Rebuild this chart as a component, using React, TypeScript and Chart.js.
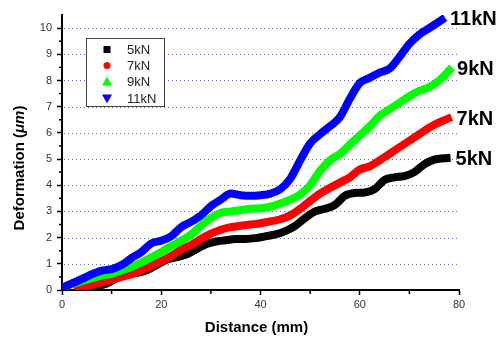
import React, { useEffect, useRef } from 'react';
import { Chart, registerables } from 'chart.js';
Chart.register(...registerables);

const seriesLabels = ['5kN', '7kN', '9kN', '11kN'];
const seriesColors = ['#000000', '#ff0000', '#00ff00', '#0000ff'];

const x5 = [3, 5, 7, 9, 11, 13, 15, 17, 19, 21, 23, 25, 27, 29, 31, 33, 35, 37, 39, 41, 43, 45, 47, 49, 51, 53, 55, 57, 59, 61, 63, 65, 67, 69, 71, 73, 75, 77, 78.3];
const y5 = [0.0, 0.08, 0.15, 0.25, 0.45, 0.6, 0.65, 0.75, 0.95, 1.15, 1.25, 1.35, 1.55, 1.75, 1.85, 1.9, 1.95, 1.95, 1.98, 2.05, 2.12, 2.25, 2.45, 2.75, 3.0, 3.1, 3.25, 3.6, 3.7, 3.72, 3.85, 4.2, 4.3, 4.35, 4.5, 4.8, 4.98, 5.03, 5.05];

const x7 = [2.5, 4, 6, 8, 10, 12, 14, 16, 18, 20, 22, 24, 26, 28, 30, 32, 34, 36, 38, 40, 42, 44, 46, 48, 50, 52, 54, 56, 58, 60, 62, 64, 66, 68, 70, 72, 74, 76, 78.5];
const y7 = [0.0, 0.1, 0.2, 0.3, 0.38, 0.5, 0.6, 0.75, 0.92, 1.1, 1.3, 1.55, 1.72, 1.95, 2.15, 2.3, 2.4, 2.45, 2.5, 2.55, 2.62, 2.7, 2.85, 3.1, 3.4, 3.68, 3.9, 4.1, 4.3, 4.6, 4.72, 4.95, 5.2, 5.45, 5.7, 5.95, 6.2, 6.4, 6.6];

const x9 = [0, 2, 4, 6, 8, 10, 12, 14, 16, 18, 20, 22, 24, 26, 28, 30, 32, 34, 36, 38, 40, 42, 44, 46, 48, 50, 52, 54, 56, 58, 60, 62, 64, 66, 68, 70, 72, 74, 76, 78.6];
const y9 = [0.08, 0.22, 0.35, 0.45, 0.55, 0.62, 0.75, 0.88, 1.05, 1.25, 1.45, 1.68, 1.88, 2.12, 2.45, 2.75, 2.95, 3.0, 3.05, 3.1, 3.12, 3.18, 3.3, 3.45, 3.65, 4.0, 4.55, 4.95, 5.2, 5.55, 5.9, 6.25, 6.65, 6.9, 7.15, 7.4, 7.6, 7.75, 8.0, 8.5];

const x11 = [0, 2, 4, 6, 8, 10, 12, 14, 16, 18, 20, 22, 24, 26, 28, 30, 32, 34, 36, 38, 40, 42, 44, 46, 48, 50, 52, 54, 56, 58, 60, 62, 64, 66, 68, 70, 72, 74, 76, 77.2];
const y11 = [0.08, 0.25, 0.42, 0.6, 0.74, 0.8, 0.95, 1.22, 1.45, 1.78, 1.88, 2.05, 2.4, 2.6, 2.85, 3.2, 3.45, 3.68, 3.62, 3.6, 3.62, 3.68, 3.85, 4.25, 4.95, 5.6, 5.95, 6.25, 6.6, 7.3, 7.9, 8.1, 8.3, 8.45, 8.9, 9.4, 9.75, 10.0, 10.25, 10.4];

const xTickValues = [0, 20, 40, 60, 80];
const xMinorValues = [10, 30, 50, 70];
const yTickValues = [0, 1, 2, 3, 4, 5, 6, 7, 8, 9, 10];
const yMinorValues = [0.5, 1.5, 2.5, 3.5, 4.5, 5.5, 6.5, 7.5, 8.5, 9.5];
const gridValues = [1, 2, 3, 4, 5, 6, 7, 8, 9, 10];

const xTitle = 'Distance (mm)';
const yTitleParts = ['Deformation (', 'μm', ')'];

const seriesX = [x5, x7, x9, x11];
const seriesY = [y5, y7, y9, y11];

const FONT = "'Liberation Sans', Arial, sans-serif";

function drawMarker(ctx: CanvasRenderingContext2D, idx: number, x: number, y: number) {
  ctx.fillStyle = seriesColors[idx];
  ctx.beginPath();
  if (idx === 0) {
    ctx.rect(x - 3.5, y - 3.5, 7, 7);
  } else if (idx === 1) {
    ctx.arc(x, y, 3.5, 0, Math.PI * 2);
  } else if (idx === 2) {
    ctx.moveTo(x, y - 5);
    ctx.lineTo(x + 5, y + 4);
    ctx.lineTo(x - 5, y + 4);
    ctx.closePath();
  } else {
    ctx.moveTo(x, y + 5);
    ctx.lineTo(x + 5, y - 4);
    ctx.lineTo(x - 5, y - 4);
    ctx.closePath();
  }
  ctx.fill();
}

const decorPlugin = {
  id: 'decor',
  beforeDatasetsDraw(chart: any) {
    const { ctx, chartArea } = chart;
    const ys = chart.scales.y;
    ctx.save();
    ctx.strokeStyle = 'rgba(70,70,200,0.8)';
    ctx.lineWidth = 1;
    ctx.setLineDash([1, 3]);
    gridValues.forEach((v) => {
      const py = Math.round(ys.getPixelForValue(v)) + 0.5;
      ctx.beginPath();
      ctx.moveTo(chartArea.left + 2, py);
      ctx.lineTo(chartArea.right, py);
      ctx.stroke();
    });
    ctx.restore();
  },
  afterDraw(chart: any) {
    const { ctx, chartArea } = chart;
    const xs = chart.scales.x;
    const ys = chart.scales.y;
    ctx.save();
    // minor ticks
    ctx.strokeStyle = '#000';
    ctx.lineWidth = 1.5;
    yMinorValues.forEach((v) => {
      const py = ys.getPixelForValue(v);
      ctx.beginPath();
      ctx.moveTo(chartArea.left - 3, py);
      ctx.lineTo(chartArea.left, py);
      ctx.stroke();
    });
    xMinorValues.forEach((v) => {
      const px = xs.getPixelForValue(v);
      ctx.beginPath();
      ctx.moveTo(px, chartArea.bottom);
      ctx.lineTo(px, chartArea.bottom + 4);
      ctx.stroke();
    });

    // legend box
    const bx = chartArea.left + 24.5;
    const by = chartArea.top + 23.5;
    ctx.fillStyle = '#fff';
    ctx.fillRect(bx, by, 78, 68);
    ctx.strokeStyle = '#444';
    ctx.lineWidth = 1;
    ctx.strokeRect(bx, by, 78, 68);
    const rowY = [11, 27, 43, 60];
    ctx.font = `13px ${FONT}`;
    ctx.textBaseline = 'middle';
    ctx.textAlign = 'left';
    seriesLabels.forEach((lab, i) => {
      drawMarker(ctx, i, bx + 20.5, by + rowY[i]);
      ctx.fillStyle = '#222';
      ctx.fillText(lab, bx + 40.5, by + rowY[i] + 1);
    });

    // end labels
    ctx.font = `bold 20px ${FONT}`;
    ctx.fillStyle = '#000';
    seriesLabels.forEach((lab, i) => {
      const xa = seriesX[i];
      const ya = seriesY[i];
      const px = xs.getPixelForValue(xa[xa.length - 1]);
      const py = ys.getPixelForValue(ya[ya.length - 1]);
      ctx.fillText(lab, px + 5, py + 2);
    });

    // axis titles
    ctx.font = `bold 15px ${FONT}`;
    ctx.textAlign = 'center';
    ctx.fillText(xTitle, (chartArea.left + chartArea.right) / 2 - 4, 328);

    ctx.translate(20, 168);
    ctx.rotate(-Math.PI / 2);
    const fonts = [`bold 15px ${FONT}`, `bold italic 15px ${FONT}`, `bold 15px ${FONT}`];
    let total = 0;
    const widths = yTitleParts.map((t, i) => {
      ctx.font = fonts[i];
      const w = ctx.measureText(t).width;
      total += w;
      return w;
    });
    let cx = -total / 2;
    ctx.textAlign = 'left';
    yTitleParts.forEach((t, i) => {
      ctx.font = fonts[i];
      ctx.fillText(t, cx, 0);
      cx += widths[i];
    });
    ctx.restore();
  },
};

export default function App() {
  const ref = useRef<HTMLCanvasElement>(null);
  useEffect(() => {
    const canvas = ref.current;
    if (!canvas) return;
    const order = [3, 2, 1, 0];
    const datasets = order.map((i) => ({
      label: seriesLabels[i],
      data: seriesX[i].map((x, k) => ({ x, y: seriesY[i][k] })),
      borderColor: seriesColors[i],
      backgroundColor: seriesColors[i],
      borderWidth: 8,
      pointRadius: 0,
      cubicInterpolationMode: 'monotone' as const,
      fill: false,
    }));
    const chart = new Chart(canvas, {
      type: 'line',
      data: { datasets },
      plugins: [decorPlugin],
      options: {
        animation: false,
        responsive: false,
        layout: { padding: { top: 15, right: 45, left: 0, bottom: 0 } },
        plugins: { legend: { display: false }, tooltip: { enabled: false } },
        scales: {
          x: {
            type: 'linear',
            min: 0,
            max: 80,
            afterBuildTicks: (s: any) => {
              s.ticks = xTickValues.map((v) => ({ value: v }));
            },
            afterFit: (s: any) => {
              s.height = 47;
            },
            ticks: { font: { family: FONT, size: 11 }, color: '#333', padding: 3, maxRotation: 0, autoSkip: false },
            grid: { drawOnChartArea: false, drawTicks: true, tickLength: 5, tickColor: '#000', tickWidth: 1.5 },
            border: { color: '#000', width: 2 },
          },
          y: {
            type: 'linear',
            min: 0,
            max: 10.5,
            afterBuildTicks: (s: any) => {
              s.ticks = yTickValues.map((v) => ({ value: v }));
            },
            afterFit: (s: any) => {
              s.width = 62;
            },
            ticks: { font: { family: FONT, size: 11 }, color: '#333', padding: 5, autoSkip: false },
            grid: { drawOnChartArea: false, drawTicks: true, tickLength: 5, tickColor: '#000', tickWidth: 1.5 },
            border: { color: '#000', width: 2 },
          },
        },
      },
    });
    return () => chart.destroy();
  }, []);
  return (
    <div style={{ position: 'absolute', left: 0, top: 0, width: 504, height: 337, background: '#fff' }}>
      <canvas ref={ref} width={504} height={337} style={{ display: 'block' }} />
    </div>
  );
}
